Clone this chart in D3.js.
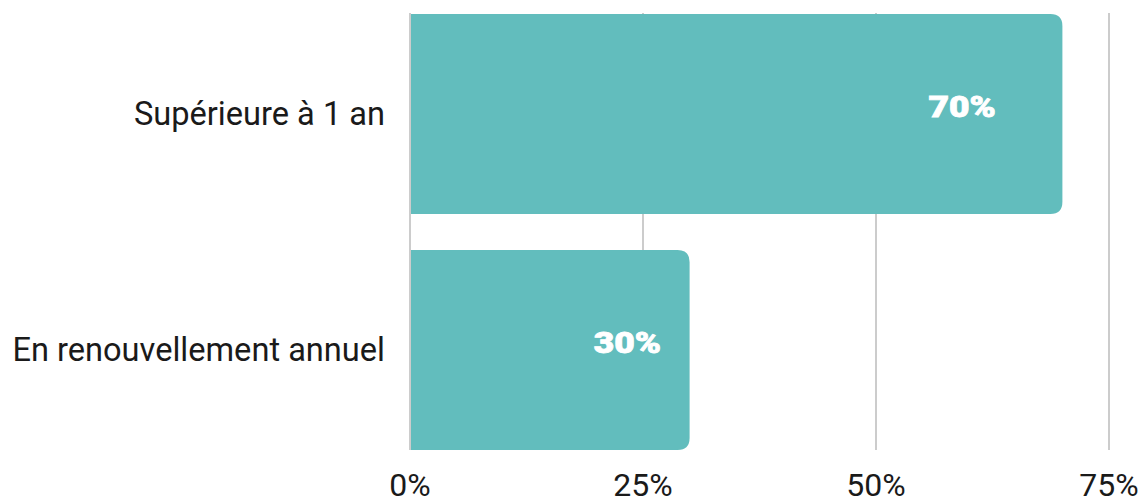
<!DOCTYPE html>
<html>
<head>
<meta charset="utf-8">
<script src="https://cdn.jsdelivr.net/npm/d3@7"></script>
<style>
  html, body { margin: 0; padding: 0; background: #fff; }
  svg { display: block; }
</style>
</head>
<body>
<svg id="chart" width="1143" height="499"></svg>
<script>
// Durée des contrats
const categories = ["Supérieure à 1 an", "En renouvellement annuel"];
const values = [70, 30];
const tickValues = [0, 25, 50, 75];
const tickLabels = ["0%", "25%", "50%", "75%"];

const W = 1143, H = 499;
const margin = { left: 410, right: 34, top: 14, bottom: 49 };
const svg = d3.select("#chart");

const x = d3.scaleLinear()
  .domain([0, 75])
  .range([margin.left, W - margin.right]);

const y = d3.scaleBand()
  .domain(categories)
  .range([margin.top, H - margin.bottom])
  .paddingInner(0.1525)
  .paddingOuter(0);

const barColor = "#62bdbd";
const gridColor = "#cccccc";

// vertical gridlines (including the baseline at 0)
svg.append("g")
  .selectAll("line")
  .data(tickValues)
  .join("line")
  .attr("x1", d => x(d)).attr("x2", d => x(d))
  .attr("y1", margin.top - 1)
  .attr("y2", H - margin.bottom)
  .attr("stroke", gridColor)
  .attr("stroke-width", 2);

// bars with rounded right corners
const r = 12;
function barPath(v, cat) {
  const x0 = x(0) + 1, x1 = x(v);
  const y0 = y(cat), y1 = y0 + y.bandwidth();
  return `M${x0},${y0} H${x1 - r} Q${x1},${y0} ${x1},${y0 + r} V${y1 - r} Q${x1},${y1} ${x1 - r},${y1} H${x0} Z`;
}
svg.append("g")
  .selectAll("path")
  .data(categories)
  .join("path")
  .attr("d", (c, i) => barPath(values[i], c))
  .attr("fill", barColor);

// value labels inside bars, near the bar end
const valLabels = svg.append("g")
  .selectAll("text")
  .data(categories)
  .join("text")
  .attr("x", (c, i) => x(values[i] * 0.898))
  .attr("y", c => y(c) + y.bandwidth() / 2 - 7)
  .attr("dy", "0.35em")
  .attr("text-anchor", "end")
  .attr("font-family", "Roboto, sans-serif")
  .attr("font-weight", 900)
  .attr("font-size", 29)
  .attr("fill", "#ffffff")
  .attr("stroke", "#ffffff")
  .attr("stroke-width", 0.8)
  .text((c, i) => values[i] + "%");
valLabels.each(function () {
  const len = this.getComputedTextLength();
  d3.select(this).attr("textLength", len * 1.22).attr("lengthAdjust", "spacingAndGlyphs");
});

// category labels
svg.append("g")
  .selectAll("text")
  .data(categories)
  .join("text")
  .attr("x", margin.left - 25)
  .attr("y", c => y(c) + y.bandwidth() / 2)
  .attr("dy", "0.35em")
  .attr("text-anchor", "end")
  .attr("font-family", "Roboto, sans-serif")
  .attr("font-size", 32.6)
  .attr("fill", "#1a1a1a")
  .text(c => c);

// x tick labels
svg.append("g")
  .selectAll("text")
  .data(tickValues)
  .join("text")
  .attr("x", d => x(d))
  .attr("y", H - 3)
  .attr("text-anchor", "middle")
  .attr("font-family", "Roboto, sans-serif")
  .attr("font-size", 32)
  .attr("fill", "#1a1a1a")
  .text((d, i) => tickLabels[i]);
</script>
</body>
</html>
